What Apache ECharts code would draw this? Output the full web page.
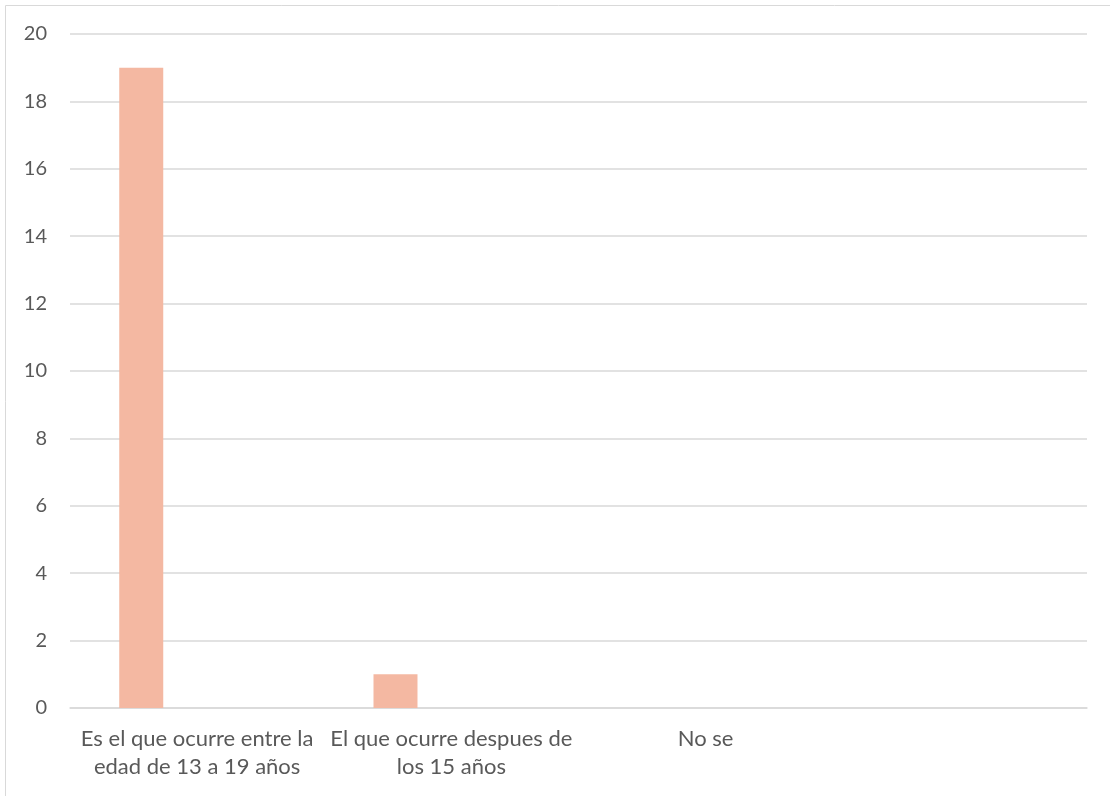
<!DOCTYPE html>
<html>
<head>
<meta charset="utf-8">
<script src="https://cdn.jsdelivr.net/npm/echarts@6/dist/echarts.min.js"></script>
<style>html,body{margin:0;padding:0;background:#fff}#c{width:1110px;height:796px}</style>
</head>
<body>
<div id="c"></div>
<script>
var categories = ['Es el que ocurre entre la\nedad de 13 a 19 años', 'El que ocurre despues de\nlos 15 años', 'No se', ''];
var values = [19, 1, null, null];
var emptySeriesA = [null, null, null, null];
var emptySeriesB = [null, null, null, null];
var yMin = 0, yMax = 20, yStep = 2;

var chart = echarts.init(document.getElementById('c'), null, {renderer: 'canvas'});
var font = 'Lato, "Open Sans", sans-serif';
chart.setOption({
  animation: false,
  graphic: [{
    type: 'rect', shape: {x: 5.5, y: 5.5, width: 1120, height: 810},
    style: {fill: 'none', stroke: '#d9d9d9', lineWidth: 1}, silent: true
  }],
  grid: {left: 70, right: 23, top: 34, bottom: 88},
  xAxis: {
    type: 'category', data: categories,
    axisLine: {lineStyle: {color: '#d9d9d9', width: 1.5}},
    axisTick: {show: false},
    axisLabel: {color: '#595959', fontFamily: font, fontSize: 22, lineHeight: 28, margin: 17, interval: 0}
  },
  yAxis: {
    type: 'value', min: yMin, max: yMax, interval: yStep,
    axisLine: {show: false}, axisTick: {show: false},
    splitLine: {lineStyle: {color: '#d9d9d9', width: 1.5}},
    axisLabel: {color: '#595959', fontFamily: font, fontSize: 20, margin: 23}
  },
  series: [
    {type: 'bar', data: values, barWidth: 44, barGap: '27%', itemStyle: {color: '#F4B8A2'}},
    {type: 'bar', data: emptySeriesA, barWidth: 44, barGap: '27%'},
    {type: 'bar', data: emptySeriesB, barWidth: 44, barGap: '27%'}
  ]
});
</script>
</body>
</html>
